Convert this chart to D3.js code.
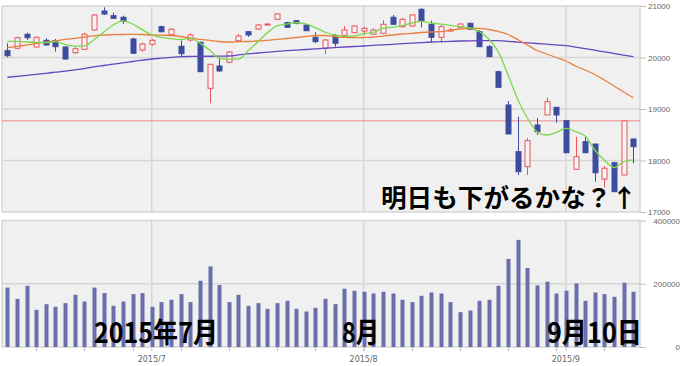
<!DOCTYPE html>
<html>
<head>
<meta charset="utf-8">
<script src="https://cdn.jsdelivr.net/npm/d3@7"></script>
<style>
body { margin: 0; background: #fff; }
</style>
</head>
<body>
<script>
// daily candles, 2015/6/10 - 2015/9/10
var DATES = [
  "2015-06-10","2015-06-11","2015-06-12","2015-06-15","2015-06-16","2015-06-17","2015-06-18","2015-06-19","2015-06-22","2015-06-23",
  "2015-06-24","2015-06-25","2015-06-26","2015-06-29","2015-06-30","2015-07-01","2015-07-02","2015-07-03","2015-07-06","2015-07-07",
  "2015-07-08","2015-07-09","2015-07-10","2015-07-13","2015-07-14","2015-07-15","2015-07-16","2015-07-17","2015-07-21","2015-07-22",
  "2015-07-23","2015-07-24","2015-07-27","2015-07-28","2015-07-29","2015-07-30","2015-07-31","2015-08-03","2015-08-04","2015-08-05",
  "2015-08-06","2015-08-07","2015-08-10","2015-08-11","2015-08-12","2015-08-13","2015-08-14","2015-08-17","2015-08-18","2015-08-19",
  "2015-08-20","2015-08-21","2015-08-24","2015-08-25","2015-08-26","2015-08-27","2015-08-28","2015-08-31","2015-09-01","2015-09-02",
  "2015-09-03","2015-09-04","2015-09-07","2015-09-08","2015-09-09","2015-09-10"
];
var OPEN = [
  20132,20179,20451,20204,20334,20326,20204,20093,20159,20534,
  20903,20812,20781,20359,20146,20256,20598,20443,20218,20340,
  20295,19402,19835,19907,20326,20501,20553,20640,20742,20676,
  20715,20631,20392,20179,20431,20431,20482,20515,20451,20470,
  20781,20598,20612,20936,20645,20392,20530,20586,20664,20501,
  20210,19724,19078,18171,17880,18689,18884,19033,18773,17829,
  18365,18320,17641,17957,17719,18418
];
var HIGH = [
  20276,20404,20482,20410,20373,20359,20215,20204,20482,20840,
  20975,20870,20812,20384,20287,20359,20617,20567,20326,20470,
  20307,19868,19977,20126,20456,20515,20650,20664,20858,20695,
  20728,20645,20489,20359,20456,20612,20625,20598,20567,20728,
  20825,20761,20839,20955,20715,20631,20573,20664,20676,20534,
  20243,19744,19155,18851,18437,18825,19219,19033,18786,18462,
  18476,18320,17893,17976,18770,18418
];
var LOW = [
  20004,20165,20340,20190,20229,20113,19960,20068,20146,20520,
  20825,20753,20650,20082,20113,20229,20482,20417,20004,20307,
  19724,19111,19724,19887,20326,20404,20534,20625,20728,20579,
  20645,20515,20276,20068,20210,20424,20476,20437,20437,20456,
  20631,20586,20598,20586,20287,20287,20501,20567,20548,20210,
  20016,19421,18515,17719,17719,18495,18884,18734,18140,17829,
  18140,17588,17480,17394,17719,17946
];
var CLOSE = [
  20035,20384,20384,20392,20243,20210,19971,20171,20451,20825,
  20845,20761,20709,20082,20262,20334,20501,20548,20074,20437,
  19724,19868,19738,20107,20417,20437,20631,20650,20845,20586,
  20664,20520,20307,20340,20276,20534,20612,20567,20534,20645,
  20645,20742,20825,20715,20392,20598,20534,20650,20548,20210,
  20016,19421,18515,17783,18385,18559,19142,18884,18152,18074,
  18152,17763,17849,17394,18770,18268
];
var MA5 = [
  20315,20315,20301,20295,20290,20310,20255,20220,20225,20345,
  20490,20630,20712,20650,20540,20440,20390,20365,20350,20370,
  20280,20145,19985,19970,19970,20130,20300,20480,20615,20650,
  20675,20655,20580,20490,20435,20410,20420,20460,20490,20565,
  20590,20620,20670,20700,20670,20650,20625,20600,20575,20505,
  20360,20105,19660,19190,18825,18560,18495,18545,18625,18560,
  18476,18204,18004,17864,17980,18014
];
var MA25 = [
  20190,20214,20243,20272,20301,20324,20350,20373,20398,20421,
  20437,20443,20447,20450,20447,20437,20433,20427,20408,20379,
  20353,20334,20311,20301,20307,20311,20320,20334,20350,20369,
  20388,20408,20427,20427,20408,20392,20388,20388,20398,20417,
  20437,20456,20470,20485,20495,20501,20528,20553,20563,20567,
  20544,20505,20447,20350,20243,20136,20068,20000,19932,19835,
  19757,19670,19563,19447,19330,19220
];
var MA75 = [
  19616,19635,19654,19674,19693,19715,19734,19761,19786,19819,
  19845,19870,19897,19922,19948,19971,19986,20002,20016,20020,
  20022,20024,20026,20029,20049,20072,20087,20103,20118,20132,
  20144,20155,20167,20181,20192,20204,20214,20223,20235,20247,
  20256,20268,20278,20289,20301,20307,20313,20320,20324,20326,
  20326,20326,20315,20299,20285,20272,20258,20245,20231,20202,
  20173,20142,20109,20078,20047,20016
];
var VOLUME = [
  188000,152400,193600,117500,135500,127000,138700,165100,143800,188000,
  170500,130200,143800,167300,170500,127000,141900,149200,167300,141900,
  209500,254900,195900,141900,165100,130200,138700,120600,138700,146000,
  120600,112100,123800,152400,135500,184100,177800,174600,169200,174600,
  169200,149200,141900,161900,172400,169200,141900,110200,115200,146000,
  149200,193600,278400,338700,249800,194600,206300,169200,177800,201000,
  146000,172400,167300,158700,203200,174600
];
var PRICE_TICKS = [17000, 18000, 19000, 20000, 21000];
var VOL_TICKS = [0, 200000, 400000];
var REF_LINE = 18770;

var NOTES = [
  { text: "明日も下がるかな？↑", x: 381, y: 207, size: 25, len: 256 },
  { text: "2015年7月", x: 94, y: 343, size: 28, len: 124 },
  { text: "8月", x: 342, y: 343, size: 28, len: 37 },
  { text: "9月10日", x: 547, y: 343, size: 28, len: 95 }
];

var W = 683, H = 366;
var PLOT_L = 2, PLOT_R = 640;
var P_TOP = 6, P_BOT = 212;
var V_TOP = 220.5, V_BOT = 347;

var RED = "#e8545a", BLUE = "#3d4c9e";

var parse = d3.timeParse("%Y-%m-%d");
var days = DATES.map(parse);

var x = d3.scaleBand().domain(DATES).range([2.5, 638.1]);
function cx(i) { return x(DATES[i]) + x.bandwidth() / 2; }
var yP = d3.scaleLinear().domain([17000, 21000]).range([P_BOT, P_TOP]);
var yV = d3.scaleLinear().domain([0, 400000]).range([V_BOT, V_TOP]);

// first trading day of each week / month
var weekStarts = [], monthStarts = [];
for (var i = 1; i < days.length; ++i) {
  if (+d3.timeMonday.floor(days[i]) != +d3.timeMonday.floor(days[i - 1])) weekStarts.push(i);
  if (days[i].getMonth() != days[i - 1].getMonth()) monthStarts.push(i);
}

var svg = d3.select("body").append("svg")
  .attr("width", W)
  .attr("height", H)
  .style("font-family", "'DejaVu Sans', sans-serif");

// panel backgrounds
svg.append("rect").attr("x", PLOT_L).attr("y", P_TOP).attr("width", PLOT_R - PLOT_L).attr("height", P_BOT - P_TOP)
  .attr("fill", "#f0f0f0");
svg.append("rect").attr("x", PLOT_L).attr("y", V_TOP).attr("width", PLOT_R - PLOT_L).attr("height", V_BOT - V_TOP)
  .attr("fill", "#f0f0f0");

var grid = svg.append("g").attr("stroke", "#d6d6d6").attr("stroke-width", 1.5);
grid.selectAll(".hp").data(PRICE_TICKS).enter().append("line")
  .attr("x1", PLOT_L).attr("x2", PLOT_R)
  .attr("y1", function(d) { return yP(d); }).attr("y2", function(d) { return yP(d); });
grid.selectAll(".hv").data(VOL_TICKS).enter().append("line")
  .attr("x1", PLOT_L).attr("x2", PLOT_R)
  .attr("y1", function(d) { return yV(d); }).attr("y2", function(d) { return yV(d); });
grid.selectAll(".mp").data(monthStarts).enter().append("line")
  .attr("x1", cx).attr("x2", cx).attr("y1", P_TOP).attr("y2", P_BOT);
grid.selectAll(".mv").data(monthStarts).enter().append("line")
  .attr("x1", cx).attr("x2", cx).attr("y1", V_TOP).attr("y2", V_BOT + 4);
grid.append("line").attr("x1", PLOT_L).attr("x2", PLOT_L).attr("y1", P_TOP).attr("y2", P_BOT);
grid.append("line").attr("x1", PLOT_L).attr("x2", PLOT_L).attr("y1", V_TOP).attr("y2", V_BOT);
grid.append("line").attr("x1", PLOT_R).attr("x2", PLOT_R).attr("y1", P_TOP).attr("y2", P_BOT);
grid.append("line").attr("x1", PLOT_R).attr("x2", PLOT_R).attr("y1", V_TOP).attr("y2", V_BOT);

// reference line
svg.append("line")
  .attr("x1", PLOT_L).attr("x2", PLOT_R)
  .attr("y1", yP(REF_LINE)).attr("y2", yP(REF_LINE))
  .attr("stroke", "#f08a8a").attr("stroke-width", 1);

// candles
var idx = d3.range(DATES.length);
var candle = svg.append("g").selectAll("g").data(idx).enter().append("g");
candle.append("line")
  .attr("x1", function(i) { return Math.round(cx(i)) + 0.5; })
  .attr("x2", function(i) { return Math.round(cx(i)) + 0.5; })
  .attr("y1", function(i) { return yP(HIGH[i]); })
  .attr("y2", function(i) { return yP(LOW[i]); })
  .attr("stroke", function(i) { return CLOSE[i] >= OPEN[i] ? RED : BLUE; })
  .attr("stroke-width", 1);
candle.append("rect")
  .attr("x", function(i) { return Math.round(cx(i)) - 2; })
  .attr("width", 5)
  .attr("y", function(i) { return yP(Math.max(OPEN[i], CLOSE[i])); })
  .attr("height", function(i) { return Math.max(1, Math.abs(yP(OPEN[i]) - yP(CLOSE[i]))); })
  .attr("fill", function(i) { return CLOSE[i] >= OPEN[i] ? "#f6f6f6" : BLUE; })
  .attr("stroke", function(i) { return CLOSE[i] >= OPEN[i] ? RED : BLUE; })
  .attr("stroke-width", 1);

// moving averages
function maLine(arr, color) {
  var line = d3.line()
    .x(function(v, i) { return cx(i); })
    .y(function(v) { return yP(v); })
    .curve(d3.curveMonotoneX);
  svg.append("path").datum(arr)
    .attr("d", line)
    .attr("fill", "none")
    .attr("stroke", color)
    .attr("stroke-width", 1.3);
}
maLine(MA75, "#6646c0");
maLine(MA25, "#e8803c");
maLine(MA5, "#7ad84c");

// volume
svg.append("g").selectAll("rect").data(idx).enter().append("rect")
  .attr("x", function(i) { return Math.round(cx(i)) - 1.5; })
  .attr("width", 4)
  .attr("y", function(i) { return yV(VOLUME[i]); })
  .attr("height", function(i) { return V_BOT - yV(VOLUME[i]); })
  .attr("fill", "#6a6fac");

// axes
function styleAxis(g) {
  g.select(".domain").remove();
  g.selectAll(".tick line").attr("stroke", "#bbb");
  g.selectAll(".tick text").attr("fill", "#666").style("font-size", "8px");
}
svg.append("g")
  .attr("transform", "translate(" + PLOT_R + ",0)")
  .call(d3.axisRight(yP).tickValues(PRICE_TICKS).tickSize(6).tickPadding(2).tickFormat(d3.format("d")))
  .call(styleAxis);
svg.append("g")
  .attr("transform", "translate(" + PLOT_R + ",0)")
  .call(d3.axisRight(yV).tickValues(VOL_TICKS).tickSize(6).tickPadding(2).tickFormat(d3.format("d")))
  .call(styleAxis)
  .selectAll(".tick text").attr("text-anchor", "end").attr("x", 40);

var xTicks = svg.append("g").attr("stroke", "#bbb");
xTicks.selectAll("line").data(weekStarts).enter().append("line")
  .attr("x1", function(i) { return Math.round(cx(i)) + 0.5; })
  .attr("x2", function(i) { return Math.round(cx(i)) + 0.5; })
  .attr("y1", V_BOT).attr("y2", V_BOT + 4);

var fmtMonth = d3.timeFormat("%Y/%-m");
svg.append("g").selectAll("text").data(monthStarts).enter().append("text")
  .attr("x", cx)
  .attr("y", 362)
  .attr("text-anchor", "middle")
  .attr("fill", "#666")
  .style("font-size", "8px")
  .text(function(i) { return fmtMonth(days[i]); });

// hand-written notes
svg.append("g").selectAll("text").data(NOTES).enter().append("text")
  .attr("x", function(d) { return d.x; })
  .attr("y", function(d) { return d.y; })
  .attr("textLength", function(d) { return d.len; })
  .attr("lengthAdjust", "spacingAndGlyphs")
  .style("font-family", "'Noto Sans CJK JP', sans-serif")
  .style("font-weight", "bold")
  .style("font-size", function(d) { return d.size + "px"; })
  .attr("fill", "#000")
  .text(function(d) { return d.text; });
</script>
</body>
</html>
